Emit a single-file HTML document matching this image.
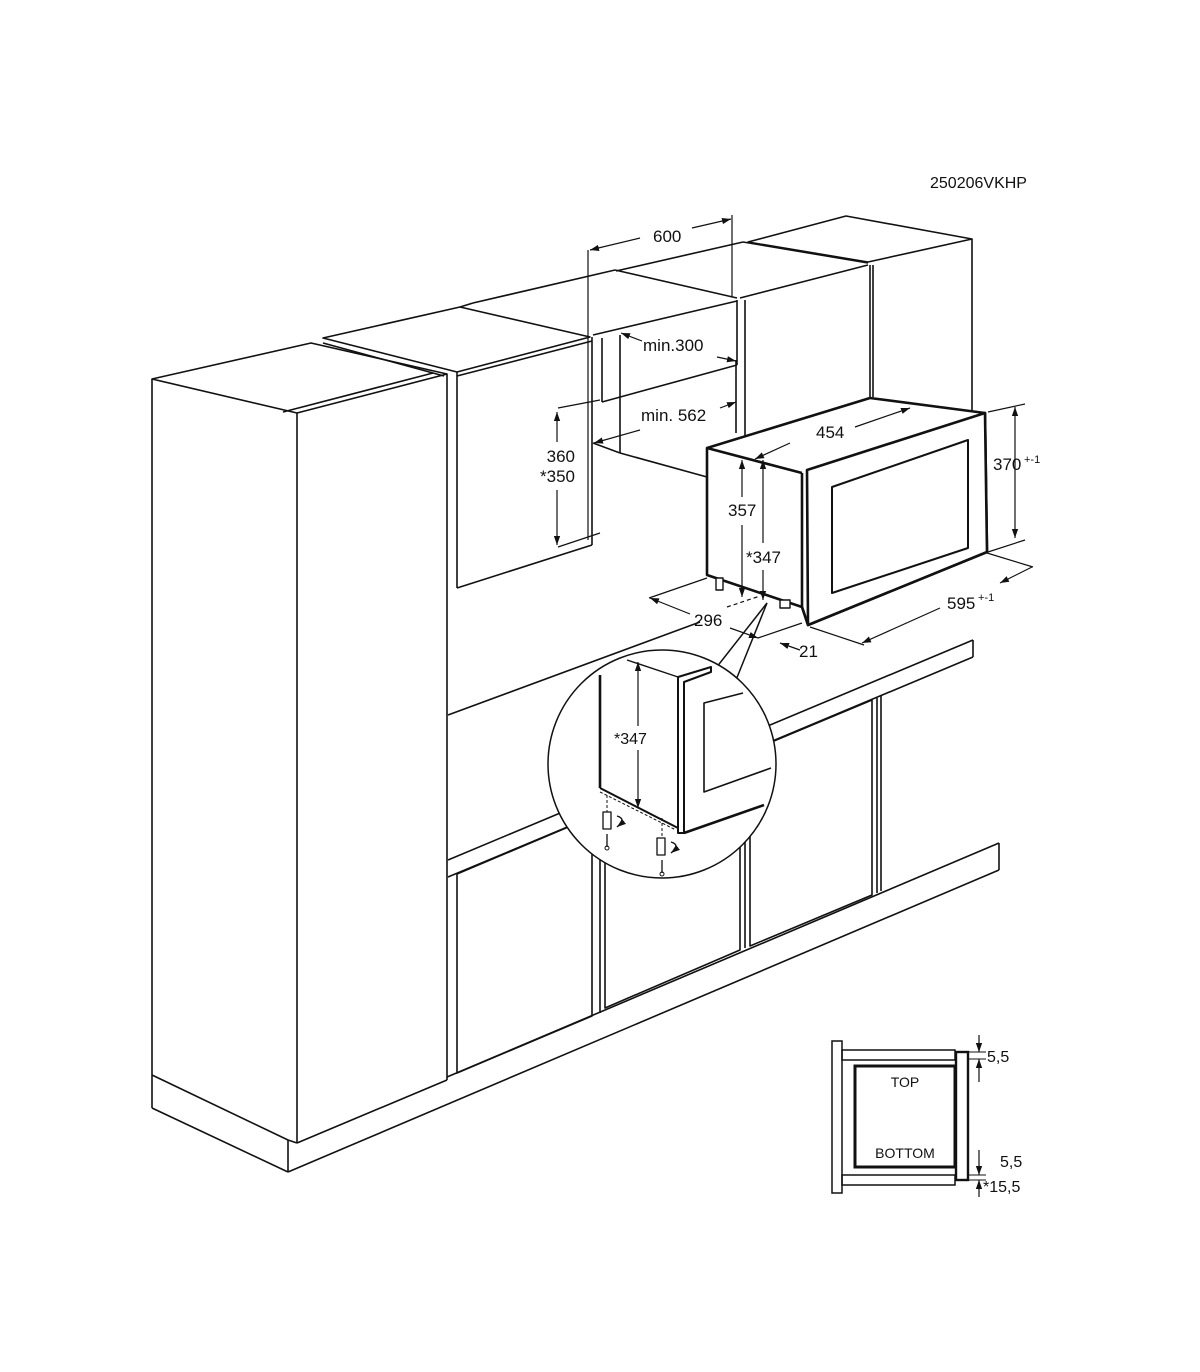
<!DOCTYPE html>
<html><head><meta charset="utf-8"><style>
html,body{margin:0;padding:0;background:#fff;}
svg{display:block;}
text{font-family:"Liberation Sans",Arial,sans-serif;fill:#111;}
</style></head><body>
<svg width="1200" height="1372" viewBox="0 0 1200 1372" xmlns="http://www.w3.org/2000/svg">
<defs>
<marker id="a" viewBox="0 0 10 10" refX="10" refY="5" markerWidth="9" markerHeight="9" orient="auto-start-reverse" markerUnits="userSpaceOnUse"><path d="M0,1.5 L10,5 L0,8.5 z" fill="#111"/></marker>
</defs>
<rect width="1200" height="1372" fill="#fff"/>
<g fill="none" stroke="#111" stroke-width="1.6" stroke-linejoin="round">
<polygon points="152,379 311,343 447,374 297,413"/>
<line x1="283" y1="412" x2="433" y2="373"/>
<line x1="152" y1="379" x2="152" y2="1108"/>
<line x1="297" y1="413" x2="297" y2="1143"/>
<line x1="447" y1="374" x2="447" y2="1080"/>
<line x1="152" y1="1075" x2="288" y2="1140"/>
<line x1="152" y1="1108" x2="288" y2="1172"/>
<line x1="288" y1="1140" x2="288" y2="1172"/>
<line x1="288" y1="1140" x2="297" y2="1143"/>
<line x1="297" y1="1143" x2="447" y2="1080"/>
<line x1="288" y1="1172" x2="999" y2="870"/>
<line x1="447" y1="1077" x2="999" y2="843"/>
<line x1="999" y1="843" x2="999" y2="870"/>
<polygon points="323,338 460,307 590,337 457,372"/>
<line x1="323" y1="343" x2="444" y2="376"/>
<line x1="457" y1="376" x2="592" y2="341"/>
<line x1="457" y1="372" x2="457" y2="588"/>
<line x1="592" y1="337" x2="592" y2="545"/>
<line x1="457" y1="588" x2="592" y2="545"/>
<line x1="460" y1="307" x2="473" y2="303"/>
<line x1="473" y1="303" x2="615" y2="270"/>
<line x1="615" y1="270" x2="737" y2="298"/>
<line x1="593" y1="335" x2="737" y2="301"/>
<line x1="602" y1="338" x2="602" y2="402"/>
<line x1="602" y1="402" x2="737" y2="365"/>
<line x1="737" y1="300" x2="737" y2="365"/>
<line x1="588" y1="250" x2="588" y2="540" stroke-width="1.2"/>
<line x1="620" y1="335" x2="620" y2="453"/>
<line x1="620" y1="453" x2="707" y2="477"/>
<line x1="593" y1="443" x2="620" y2="453"/>
<line x1="736" y1="360" x2="736" y2="433"/>
<line x1="616" y1="271" x2="743" y2="242"/>
<line x1="743" y1="242" x2="868" y2="263"/>
<line x1="740" y1="298" x2="868" y2="265"/>
<line x1="745" y1="300" x2="745" y2="437"/>
<line x1="870" y1="265" x2="870" y2="397"/>
<polygon points="748,242 846,216 972,239 868,262"/>
<line x1="873" y1="265" x2="873" y2="397"/>
<line x1="972" y1="239" x2="972" y2="412"/>
<line x1="448" y1="715" x2="700" y2="622"/>
<line x1="448" y1="860" x2="973" y2="640"/>
<line x1="448" y1="877" x2="973" y2="657"/>
<line x1="973" y1="640" x2="973" y2="657"/>
<polygon points="457,874 592,817 592,1016 457,1073"/>
<line x1="600" y1="814" x2="600" y2="1013"/>
<polygon points="605,812 740,755 740,950 605,1008"/>
<line x1="745" y1="753" x2="745" y2="948"/>
<polygon points="750,751 872,700 872,895 750,946"/>
<line x1="877" y1="698" x2="877" y2="893"/>
<line x1="881" y1="696" x2="881" y2="891"/>
</g>
<!-- microwave -->
<g fill="#fff" stroke="#111" stroke-width="2.6" stroke-linejoin="round">
<polygon points="707,448 870,398 985,413 987,552 808,625 802,607 707,575"/>
<line x1="707" y1="448" x2="802" y2="473"/>
<line x1="802" y1="473" x2="802" y2="607"/>
<line x1="802" y1="607" x2="808" y2="625"/>
<polygon points="807,470 985,413 987,552 808,625"/>
<polygon points="832,487 968,440 968,548 832,593" stroke-width="2"/>
<rect x="716" y="578" width="7" height="12" stroke-width="1.4"/>
<rect x="780" y="600" width="10" height="8" stroke-width="1.4"/>
</g>
<g fill="none" stroke="#111" stroke-width="1.2">
<line x1="732" y1="215" x2="732" y2="297"/>
<line x1="590" y1="250" x2="640" y2="238" marker-start="url(#a)"/>
<line x1="692" y1="228" x2="731" y2="219" marker-end="url(#a)"/>
<line x1="558" y1="408" x2="600" y2="400"/>
<line x1="558" y1="547" x2="600" y2="533"/>
<line x1="557" y1="412" x2="557" y2="442" marker-start="url(#a)"/>
<line x1="557" y1="490" x2="557" y2="545" marker-end="url(#a)"/>
<line x1="621" y1="333" x2="642" y2="341" marker-start="url(#a)"/>
<line x1="717" y1="357" x2="736" y2="361" marker-end="url(#a)"/>
<line x1="720" y1="408" x2="736" y2="402" marker-end="url(#a)"/>
<line x1="640" y1="430" x2="594" y2="443" marker-end="url(#a)"/>
<line x1="790" y1="443" x2="755" y2="459" marker-end="url(#a)"/>
<line x1="855" y1="427" x2="910" y2="408" marker-end="url(#a)"/>
<line x1="742" y1="460" x2="742" y2="497" marker-start="url(#a)"/>
<line x1="742" y1="525" x2="742" y2="597" marker-end="url(#a)"/>
<line x1="763" y1="460" x2="763" y2="543" marker-start="url(#a)"/>
<line x1="763" y1="570" x2="763" y2="600" marker-end="url(#a)"/>
<line x1="988" y1="412" x2="1025" y2="404"/>
<line x1="988" y1="552" x2="1025" y2="540"/>
<line x1="1015" y1="407" x2="1015" y2="538" marker-start="url(#a)" marker-end="url(#a)"/>
<line x1="987" y1="553" x2="1033" y2="567"/>
<line x1="810" y1="627" x2="864" y2="645"/>
<line x1="1032" y1="567" x2="1000" y2="583" marker-end="url(#a)"/>
<line x1="940" y1="608" x2="862" y2="643" marker-end="url(#a)"/>
<line x1="649" y1="598" x2="707" y2="578"/>
<line x1="690" y1="614" x2="650" y2="598" marker-end="url(#a)"/>
<line x1="730" y1="628" x2="758" y2="638" marker-end="url(#a)"/>
<line x1="727" y1="607" x2="760" y2="596" stroke-dasharray="4,3"/>
<line x1="758" y1="638" x2="802" y2="623"/>
<line x1="800" y1="650" x2="780" y2="643" marker-end="url(#a)"/>
</g>
<g stroke="#111" stroke-width="1.5">
<line x1="767" y1="603" x2="716" y2="668"/>
<line x1="767" y1="603" x2="736" y2="680"/>
<circle cx="662" cy="764" r="114" fill="#fff"/>
<polygon points="716,668 736,680 745,690 700,660" fill="#fff" stroke="none"/>
</g>
<g fill="none" stroke="#111" stroke-linejoin="round">
<line x1="600" y1="675" x2="600" y2="788" stroke-width="2.6"/>
<line x1="600" y1="788" x2="678" y2="828" stroke-width="2"/>
<line x1="627" y1="660" x2="678" y2="677" stroke-width="1.4"/>
<line x1="638" y1="662" x2="638" y2="726" stroke-width="1.2" marker-start="url(#a)"/>
<line x1="638" y1="750" x2="638" y2="808" stroke-width="1.2" marker-end="url(#a)"/>
<polygon points="678,677 711,667 711,672 684,682 684,833 678,833" stroke-width="2" fill="#fff"/>
<line x1="684" y1="833" x2="764" y2="805" stroke-width="2.6"/>
<polyline points="743,693 704,703 704,792 771,768" stroke-width="1.6"/>
<line x1="607" y1="795" x2="607" y2="812" stroke-dasharray="3,2" stroke-width="1"/>
<line x1="662" y1="818" x2="662" y2="836" stroke-dasharray="3,2" stroke-width="1"/>
<line x1="600" y1="792" x2="676" y2="830" stroke-dasharray="3,2" stroke-width="1"/>
<rect x="603" y="812" width="8" height="17" stroke-width="1.3" fill="#fff"/>
<rect x="657" y="838" width="8" height="17" stroke-width="1.3" fill="#fff"/>
<line x1="607" y1="834" x2="607" y2="847" stroke-width="1.3"/>
<circle cx="607" cy="848" r="2" stroke-width="1"/>
<line x1="662" y1="860" x2="662" y2="873" stroke-width="1.3"/>
<circle cx="662" cy="874" r="2" stroke-width="1"/>
<path d="M617,816 q10,3 0,11" stroke-width="1.4" marker-end="url(#a)"/>
<path d="M671,842 q10,3 0,11" stroke-width="1.4" marker-end="url(#a)"/>
</g>
<g fill="none" stroke="#111">
<rect x="832" y="1041" width="10" height="152" stroke-width="1.5"/>
<rect x="842" y="1050" width="113" height="10" stroke-width="1.5"/>
<rect x="842" y="1175" width="113" height="10" stroke-width="1.5"/>
<rect x="855" y="1066" width="100" height="101" stroke-width="3"/>
<rect x="956" y="1052" width="12" height="128" stroke-width="2.4"/>
<line x1="968" y1="1052" x2="986" y2="1052" stroke-width="1"/>
<line x1="968" y1="1059" x2="986" y2="1059" stroke-width="1"/>
<line x1="968" y1="1175" x2="986" y2="1175" stroke-width="1"/>
<line x1="968" y1="1180" x2="986" y2="1180" stroke-width="1"/>
<line x1="979" y1="1035" x2="979" y2="1052" stroke-width="1.2" marker-end="url(#a)"/>
<line x1="979" y1="1082" x2="979" y2="1059" stroke-width="1.2" marker-end="url(#a)"/>
<line x1="979" y1="1150" x2="979" y2="1175" stroke-width="1.2" marker-end="url(#a)"/>
<line x1="979" y1="1197" x2="979" y2="1180" stroke-width="1.2" marker-end="url(#a)"/>
</g>
<g font-size="17">
<text x="930" y="188" font-size="16">250206VKHP</text>
<text x="653" y="242">600</text>
<text x="643" y="351">min.300</text>
<text x="641" y="421">min. 562</text>
<text x="575" y="462" text-anchor="end">360</text>
<text x="575" y="482" text-anchor="end">*350</text>
<text x="816" y="438">454</text>
<text x="728" y="516">357</text>
<text x="746" y="563">*347</text>
<text x="993" y="470">370</text><text x="1024" y="463" font-size="11">+-1</text>
<text x="947" y="609">595</text><text x="978" y="601" font-size="11">+-1</text>
<text x="694" y="626">296</text>
<text x="799" y="657">21</text>
<text x="614" y="744" font-size="16">*347</text>
<text x="987" y="1062" font-size="16">5,5</text>
<text x="1000" y="1167" font-size="16">5,5</text>
<text x="983" y="1192" font-size="16">*15,5</text>
<text x="905" y="1087" font-size="14" text-anchor="middle">TOP</text>
<text x="905" y="1158" font-size="14" text-anchor="middle">BOTTOM</text>
</g>
</svg>
</body></html>
